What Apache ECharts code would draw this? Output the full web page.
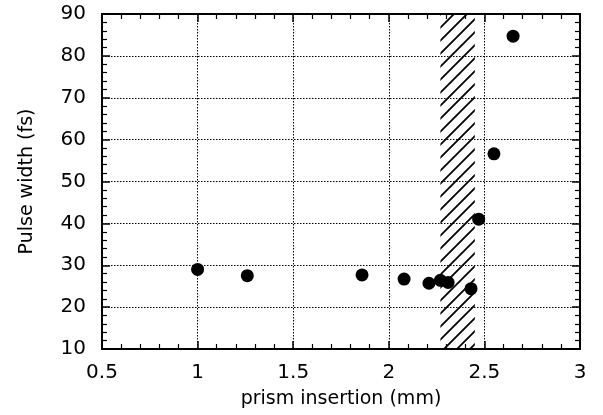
<!DOCTYPE html>
<html>
<head>
<meta charset="utf-8">
<script src="https://cdn.jsdelivr.net/npm/echarts@6/dist/echarts.min.js"></script>
<style>
  html, body { margin: 0; padding: 0; background: #fff; }
  #chart { width: 603px; height: 415px; }
</style>
</head>
<body>
<div id="chart"></div>
<script>
// Measured pulse width versus prism insertion
const insertionMm = [1.0, 1.26, 1.86, 2.08, 2.21, 2.27, 2.31, 2.43, 2.47, 2.55, 2.65];
const pulseWidthFs = [29.0, 27.5, 27.7, 26.7, 25.7, 26.4, 25.9, 24.4, 41.0, 56.6, 84.7];

// Shaded insertion range (mm)
const bandRange = [2.27, 2.45];

const xTicks = { min: 0.5, max: 3, interval: 0.5 };
const yTicks = { min: 10, max: 90, interval: 10 };

// Diagonal hatch pattern for the shaded band
function hatchPattern() {
  const s = 13;
  const c = document.createElement('canvas');
  c.width = s; c.height = s;
  const g = c.getContext('2d');
  g.strokeStyle = '#000';
  g.lineWidth = 1.8;
  g.beginPath();
  g.moveTo(-1, s + 1); g.lineTo(s + 1, -1);
  g.moveTo(-1, 1); g.lineTo(1, -1);
  g.moveTo(s - 1, s + 1); g.lineTo(s + 1, s - 1);
  g.stroke();
  return c;
}

const font = 'DejaVu Sans';
const axisLine = { show: true, onZero: false, lineStyle: { color: '#000', width: 2 } };
const tick = { show: true, inside: true, length: 8, lineStyle: { color: '#000', width: 1.5 } };
const minor = { show: true, splitNumber: 5, length: 5, lineStyle: { color: '#000', width: 1.2 } };
const grid = { show: true, lineStyle: { color: '#000', width: 1, type: [1.5, 1.5] } };

const chart = echarts.init(document.getElementById('chart'), null, { renderer: 'canvas' });
chart.setOption({
  animation: false,
  backgroundColor: '#fff',
  grid: { left: 102, right: 23, top: 14, bottom: 66 },
  xAxis: [
    {
      type: 'value', position: 'bottom', ...xTicks,
      name: 'prism insertion (mm)', nameLocation: 'middle', nameGap: 41,
      nameTextStyle: { fontFamily: font, fontSize: 19, color: '#000' },
      axisLine, axisTick: tick, minorTick: minor, splitLine: grid,
      axisLabel: { fontFamily: font, fontSize: 20, color: '#000', margin: 14,
        formatter: v => String(v) }
    },
    {
      type: 'value', position: 'top', ...xTicks,
      axisLine, axisTick: tick, minorTick: minor,
      splitLine: { show: false }, axisLabel: { show: false }
    }
  ],
  yAxis: [
    {
      type: 'value', position: 'left', ...yTicks,
      name: 'Pulse width (fs)', nameLocation: 'middle', nameGap: 65,
      nameTextStyle: { fontFamily: font, fontSize: 19, color: '#000' },
      axisLine, axisTick: tick, minorTick: minor, splitLine: grid,
      axisLabel: { fontFamily: font, fontSize: 20, color: '#000', margin: 16 }
    },
    {
      type: 'value', position: 'right', ...yTicks,
      axisLine, axisTick: tick, minorTick: minor,
      splitLine: { show: false }, axisLabel: { show: false }
    }
  ],
  series: [
    {
      type: 'scatter',
      xAxisIndex: 0, yAxisIndex: 0,
      symbol: 'circle', symbolSize: 13,
      itemStyle: { color: '#000', opacity: 1 },
      data: insertionMm.map((x, i) => [x, pulseWidthFs[i]]),
      markArea: {
        silent: true,
        itemStyle: { color: { image: hatchPattern(), repeat: 'repeat' }, opacity: 1 },
        data: [[{ xAxis: bandRange[0] }, { xAxis: bandRange[1] }]]
      },
      z: 5
    }
  ]
});
</script>
</body>
</html>
